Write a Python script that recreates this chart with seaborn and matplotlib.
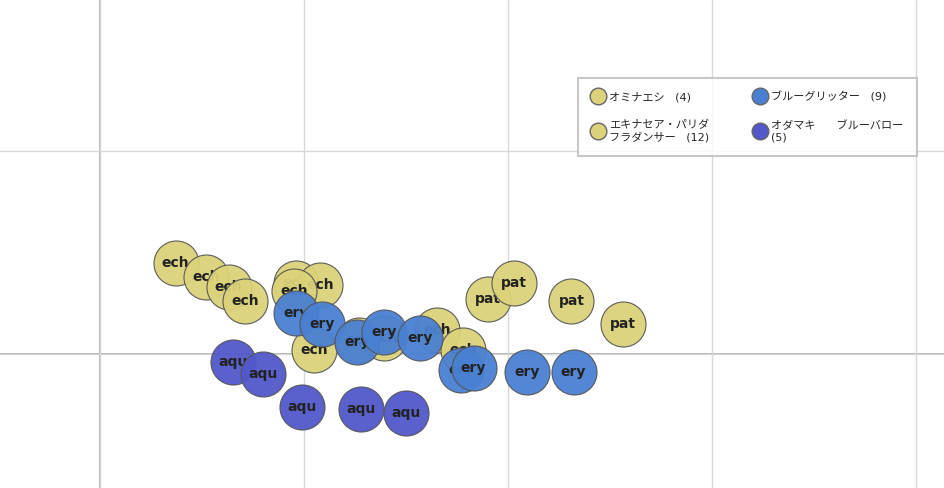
import seaborn as sns
import matplotlib.pyplot as plt
import pandas as pd
from matplotlib.lines import Line2D

# grid units: 1 unit ~ 204 px
species = ["pat"] * 4 + ["ech"] * 12 + ["ery"] * 9 + ["aqu"] * 5
xs = [1.90, 2.03, 2.31, 2.56,
      0.37, 0.52, 0.63, 0.71, 0.96, 1.08, 0.95, 1.05, 1.27, 1.39, 1.65, 1.78,
      0.96, 1.09, 1.26, 1.39, 1.57, 1.77, 1.83, 2.09, 2.32,
      0.65, 0.80, 0.99, 1.28, 1.50]
ys = [0.27, 0.35, 0.26, 0.15,
      0.45, 0.38, 0.33, 0.26, 0.35, 0.34, 0.31, 0.02, 0.07, 0.08, 0.12, 0.02,
      0.20, 0.15, 0.06, 0.11, 0.08, -0.08, -0.07, -0.09, -0.09,
      -0.04, -0.10, -0.26, -0.27, -0.29]
colors = {"pat": "#dbd27a", "ech": "#dbd27a", "ery": "#4a80d2", "aqu": "#5258ca"}
legend_labels = {"pat": "オミナエシ   (4)", "ery": "ブルーグリッター   (9)",
                 "ech": "エキナセア・パリダ\nフラダンサー   (12)", "aqu": "オダマキ      ブルーバロー\n(5)"}
draw_order = {"ech": 0, "ery": 1, "aqu": 2, "pat": 3}

df = pd.DataFrame({"x": xs, "y": ys, "sp": species})
df["o"] = df.sp.map(draw_order)
df = df.sort_values("o", kind="stable").reset_index(drop=True)

sns.set_style("whitegrid")
plt.rcParams["font.family"] = ["DejaVu Sans", "Noto Sans CJK JP"]
fig = plt.figure(figsize=(9.45, 4.88), dpi=100)
ax = fig.add_axes([0, 0, 1, 1])
# one point at a time so later markers cover earlier labels, like the original
for i, r in df.iterrows():
    sns.scatterplot(x=[r.x], y=[r.y], color=colors[r.sp], s=1050, marker="o",
                    edgecolor="#555555", linewidth=0.8, alpha=0.95, legend=False,
                    ax=ax, zorder=3 + 2 * i)
    ax.text(r.x, r.y, r.sp, ha="center", va="center", fontsize=10, color="#222222",
            weight="bold", zorder=4 + 2 * i)

ax.set_xlim(-0.49, 4.14)
ax.set_ylim(-0.66, 1.744)
ax.set_xticks([0, 1, 2, 3, 4])
ax.set_yticks([0, 1])
ax.set_xticklabels([])
ax.set_yticklabels([])
ax.grid(color="#d8d8d8", linewidth=1)
ax.axhline(0, color="#9aa5a0", lw=1.2, zorder=0)
ax.axvline(0, color="#9aa5a0", lw=1.2, zorder=0)
ax.set_xlabel("")
ax.set_ylabel("")
for s in ax.spines.values():
    s.set_visible(False)

order = ["pat", "ech", "ery", "aqu"]
handles = [Line2D([], [], marker="o", ls="", markersize=12, markerfacecolor=colors[k],
                  markeredgecolor="#666666") for k in order]
leg = ax.legend(handles, [legend_labels[k] for k in order], ncol=2, loc="upper left",
                bbox_to_anchor=(572 / 945, 1 - 72 / 488), fontsize=8, frameon=True,
                handletextpad=0.4, columnspacing=4.0, labelspacing=1.6,
                borderpad=1.2, fancybox=False, handlelength=1.2)
leg.set_zorder(200)
leg.get_frame().set_edgecolor("#bbbbbb")
leg.get_frame().set_linewidth(1.5)
fig.savefig("out.png", dpi=100)
